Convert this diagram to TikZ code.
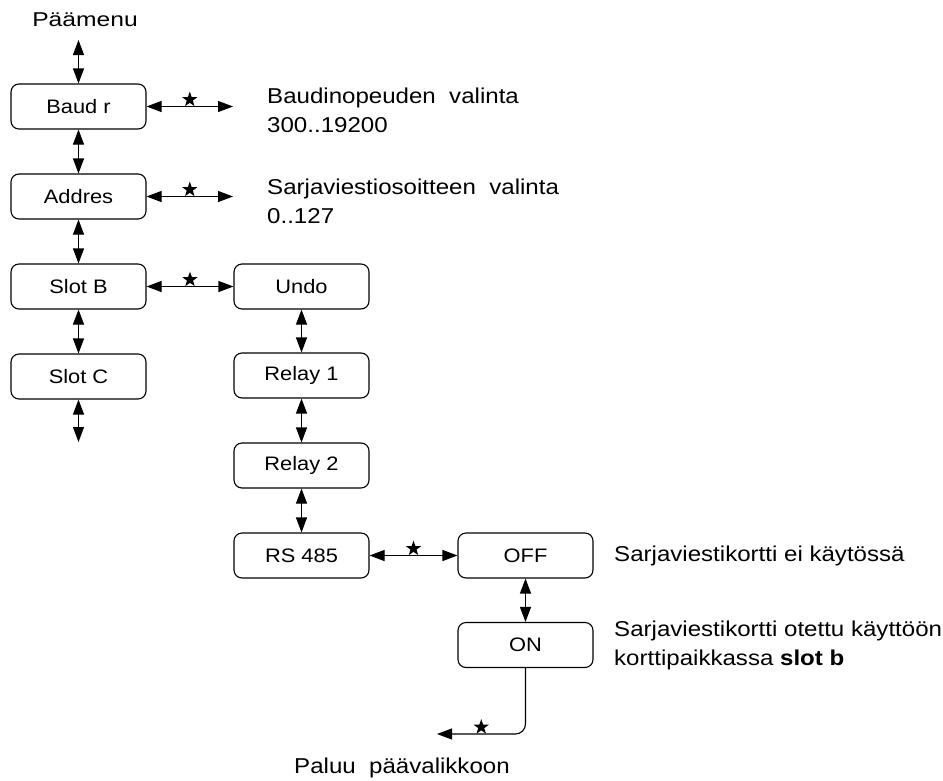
\documentclass[tikz,border=0pt]{standalone}
\usepackage{fontspec}
\setmainfont{Liberation Sans}[FakeStretch=1.12]
\usetikzlibrary{arrows.meta,shapes.geometric}

\begin{document}
\begin{tikzpicture}[x=1pt,y=-1pt,
  menubox/.style={draw, rounded corners=8pt, line width=1.1pt,
    minimum width=135pt, minimum height=45pt, inner sep=0pt,
    font=\fontsize{19.5}{22}\selectfont},
  link/.style={line width=1.1pt,
    {Triangle[length=15pt,width=11pt]}-{Triangle[length=15pt,width=11pt]}},
  oneway/.style={line width=1.1pt, -{Triangle[length=15pt,width=11pt]}},
  starmark/.style={star, star points=5, star point ratio=2.5, fill,
    draw=none, sharp corners, inner sep=0pt, minimum size=16pt},
  note/.style={anchor=north west, align=left, inner sep=0pt,
    font=\fontsize{21.5}{29}\selectfont},
  caption/.style={anchor=base, inner sep=0pt, font=\fontsize{21.5}{29}\selectfont}
]
\useasboundingbox (0,0) rectangle (943,780);

% menu column
\node[menubox] (baud)  at (78.5,106.5) {Baud r};
\node[menubox] (addr)  at (78.5,196.5) {Addres};
\node[menubox] (slotb) at (78.5,286.5) {Slot B};
\node[menubox] (slotc) at (78.5,376.5) {Slot C};

% slot B submenu
\node[menubox] (undo)   at (301.5,286.5) {Undo};
\node[menubox] (relay1) at (301.5,375.5) {Relay 1};
\node[menubox] (relay2) at (301.5,465.5) {Relay 2};
\node[menubox] (rs)     at (301.5,555.5) {RS 485};

% RS 485 options
\node[menubox] (off) at (525.5,555.5) {OFF};
\node[menubox] (on)  at (525.5,645) {ON};

% free texts
\node[anchor=base, inner sep=0pt, font=\fontsize{20}{22}\selectfont] (main)
  at (85,26.5) {\scalebox{1.1}[1]{Päämenu}};
\node[caption] (back) at (402,773) {Paluu\ \ päävalikkoon};
\node[note] (baudnote) at (267,88) {Baudinopeuden\ \ valinta\\300..19200};
\node[note] (addrnote) at (267,179) {Sarjaviestiosoitteen\ \ valinta\\0..127};
\node[note] (offnote)  at (614,546) {Sarjaviestikortti\ ei\ käytössä};
\node[note] (onnote)   at (614,621) {Sarjaviestikortti otettu käyttöön\\korttipaikkassa \textbf{slot b}};

% free ends
\coordinate (mainend)  at (78.5,40);
\coordinate (slotcend) at (78.5,442);
\coordinate (baudend)  at (233,106.5);
\coordinate (addrend)  at (233,196.5);
\coordinate (backend)  at (437,734);

% vertical navigation
\draw[link] (mainend) -- (baud.north);
\draw[link] (baud.south) -- (addr.north);
\draw[link] (addr.south) -- (slotb.north);
\draw[link] (slotb.south) -- (slotc.north);
\draw[link] (slotc.south) -- (slotcend);
\draw[link] (undo.south) -- (relay1.north);
\draw[link] (relay1.south) -- (relay2.north);
\draw[link] (relay2.south) -- (rs.north);
\draw[link] (off.south) -- (on.north);

% selections
\draw[link] (baud.east) -- node[starmark, midway, above=3pt] {} (baudend);
\draw[link] (addr.east) -- node[starmark, midway, above=3pt] {} (addrend);
\draw[link] (slotb.east) -- node[starmark, midway, above=3pt] {} (undo.west);
\draw[link] (rs.east) -- node[starmark, midway, above=3pt] {} (off.west);
\draw[oneway, rounded corners=10pt] (on.south) |- node[starmark, pos=0.75, above=3pt] {} (backend);
\end{tikzpicture}
\end{document}
